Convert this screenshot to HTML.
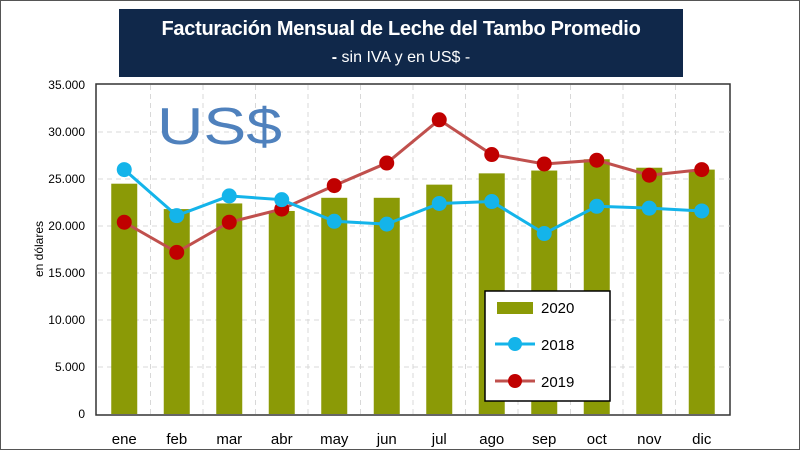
<!DOCTYPE html>
<html><head><meta charset="utf-8"><style>
body{margin:0;background:#fff}
#wrap{position:relative;width:800px;height:450px;box-sizing:border-box;border:1px solid #555;background:#fff;font-family:"Liberation Sans",sans-serif}
#title{position:absolute;left:118px;top:8px;width:564px;height:68px;background:#10284a;color:#fff;text-align:center;white-space:nowrap}
#title .t1{font-size:20px;font-weight:bold;margin-top:9px;letter-spacing:-0.3px}
#title .t2{font-size:16px;margin-top:8px}
</style></head><body>
<div id="wrap">
<div id="title"><div class="t1">Facturación Mensual de Leche del Tambo Promedio</div><div class="t2"><b>-</b> sin IVA y en US$ -</div></div>
<svg id="svg" width="800" height="450" style="position:absolute;left:0;top:0"></svg>
</div>
<script>
const categories=["ene","feb","mar","abr","may","jun","jul","ago","sep","oct","nov","dic"];
const values2020=[24.5,21.8,22.4,21.6,23.0,23.0,24.4,25.6,25.9,27.1,26.2,26.0];
const values2018=[26.0,21.1,23.2,22.8,20.5,20.2,22.4,22.6,19.2,22.1,21.9,21.6];
const values2019=[20.4,17.2,20.4,21.8,24.3,26.7,31.3,27.6,26.6,27.0,25.4,26.0];
const yTicks=[0,5000,10000,15000,20000,25000,30000,35000];
const yTickLabels=["0","5.000","10.000","15.000","20.000","25.000","30.000","35.000"];
const S="http://www.w3.org/2000/svg",svg=document.getElementById('svg');
const L=97,R=727,T=84,B=413,step=(R-L)/categories.length;
const x=i=>L+step*(i+0.5), y=v=>B-(v/35000)*(B-T);
function el(t,a,p){const e=document.createElementNS(S,t);for(const k in a)e.setAttribute(k,a[k]);(p||svg).appendChild(e);return e;}
let e=el('rect',{x:95,y:83,width:634,height:331,fill:'#fff',stroke:'#333','stroke-width':1.5});


yTicks.forEach((t,i)=>{
 if(t>0&&t<35000){e=el('line',{x1:L,x2:R+2,y1:y(t),y2:y(t),stroke:'#d8d8d8','stroke-dasharray':'5,4'});
 
 }
 e=el('text',{x:84,y:y(t)+4,'text-anchor':'end','font-size':12,fill:'#000'});e.textContent=yTickLabels[i];
 
 
});
categories.forEach((c,i)=>{
 if(i>0){e=el('line',{x1:L+step*i,x2:L+step*i,y1:T,y2:B,stroke:'#d8d8d8','stroke-dasharray':'5,4'});
 
 }
 e=el('text',{x:x(i),y:443,'text-anchor':'middle','font-size':15,fill:'#000'});e.textContent=c;
 
 
});
e=el('text',{x:156,y:143,'font-size':52,fill:'#4f81bd',textLength:125,lengthAdjust:'spacingAndGlyphs'});e.textContent='US$';


e=el('text',{x:0,y:0,transform:'translate(42,248) rotate(-90)','text-anchor':'middle','font-size':12});e.textContent='en dólares';


values2020.forEach((v,i)=>{e=el('rect',{x:x(i)-13,y:y(v*1000),width:26,height:B-y(v*1000),fill:'#8b9a06'});
 
 });
function series(vals,lc,mc,name){
 e=el('polyline',{points:vals.map((v,i)=>x(i)+','+y(v*1000)).join(' '),fill:'none',stroke:lc,'stroke-width':3});
 
 
 vals.forEach((v,i)=>{e=el('circle',{cx:x(i),cy:y(v*1000),r:7.5,fill:mc});
 
 });
}
series(values2019,'#c0504d','#c00000','series-2019');
series(values2018,'#14b4ea','#14b4ea','series-2018');
const g=el('g',{});


el('rect',{x:484,y:290,width:125,height:110,fill:'#fff',stroke:'#000','stroke-width':1.5},g);
el('rect',{x:496,y:301,width:36,height:12,fill:'#8b9a06'},g);
el('line',{x1:494,x2:534,y1:343,y2:343,stroke:'#14b4ea','stroke-width':3},g);
el('circle',{cx:514,cy:343,r:7,fill:'#14b4ea'},g);
el('line',{x1:494,x2:534,y1:380,y2:380,stroke:'#c0504d','stroke-width':3},g);
el('circle',{cx:514,cy:380,r:7,fill:'#c00000'},g);
[["2020",312],["2018",349],["2019",386]].forEach(([t,yy])=>{e=el('text',{x:540,y:yy,'font-size':15},g);e.textContent=t;
 
 });
</script>
</body></html>
